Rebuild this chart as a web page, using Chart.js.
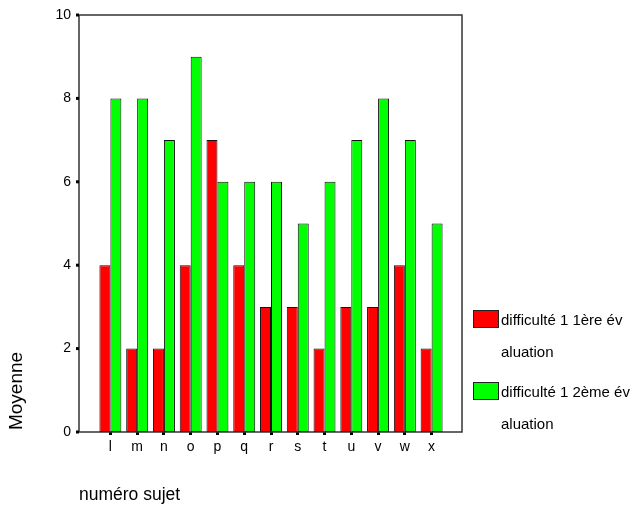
<!DOCTYPE html>
<html>
<head>
<meta charset="utf-8">
<script src="https://cdn.jsdelivr.net/npm/chart.js@4/dist/chart.umd.min.js"></script>
<style>
  body { margin: 0; background: #fff; }
  canvas { display: block; }
</style>
</head>
<body>
<canvas id="meanChart" width="633" height="506"></canvas>
<script>
// Data
const subjects = ['l', 'm', 'n', 'o', 'p', 'q', 'r', 's', 't', 'u', 'v', 'w', 'x'];
const eval1 = [4, 2, 2, 4, 7, 4, 3, 3, 2, 3, 3, 4, 2];
const eval2 = [8, 8, 7, 9, 6, 6, 6, 5, 6, 7, 8, 7, 5];
const seriesNames = ['difficulté 1 1ère évaluation', 'difficulté 1 2ème évaluation'];
const yTicks = [0, 2, 4, 6, 8, 10];

const FONT = "'Liberation Sans', Arial, sans-serif";
const colors = ['#ff0000', '#00ff00'];
const PLOT_TOP = 15;

// frame, little tick squares, legend and axis titles (SPSS look)
const spssDecor = {
    id: 'spssDecor',
    afterLayout(chart) {
        // pin the top of the value axis where the original has it
        const y = chart.scales.y;
        y.top = PLOT_TOP;
        y.height = y.bottom - y.top;
        chart.chartArea.top = PLOT_TOP;
        chart.chartArea.height = chart.chartArea.bottom - PLOT_TOP;
        y.configure();
    },
    afterDraw(chart) {
        const c = chart.ctx;
        const y = chart.scales.y;
        const top = y.getPixelForValue(10);
        const bottom = y.getPixelForValue(0);
        const left = 79, right = 462;

        c.save();
        c.strokeStyle = '#333';
        c.lineWidth = 1.5;
        c.strokeRect(left, top, right - left, bottom - top);

        c.fillStyle = '#000';
        yTicks.forEach(v => {
            c.fillRect(left - 3, y.getPixelForValue(v) - 1.5, 3, 3);
        });

        // legend, wrapped the way the original does it
        c.font = '15px ' + FONT;
        c.textBaseline = 'middle';
        c.textAlign = 'left';
        const boxTops = [310, 382];
        seriesNames.forEach((name, i) => {
            const by = boxTops[i];
            c.fillStyle = colors[i];
            c.fillRect(473, by, 26, 18);
            c.strokeStyle = '#222';
            c.lineWidth = 1;
            c.strokeRect(473.5, by + 0.5, 25, 17);
            c.fillStyle = '#000';
            const cut = name.indexOf('év') + 2;
            c.fillText(name.slice(0, cut), 501, by + 11);
            c.fillText(name.slice(cut), 501, by + 43);
        });

        // axis titles
        c.font = '19px ' + FONT;
        c.textAlign = 'center';
        c.translate(17, 391);
        c.rotate(-Math.PI / 2);
        c.fillText('Moyenne', 0, 0);
        c.restore();

        c.save();
        c.font = '17.5px ' + FONT;
        c.fillStyle = '#000';
        c.textBaseline = 'middle';
        c.textAlign = 'left';
        c.fillText('numéro sujet', 79, 495);
        c.restore();
    }
};

const ctx = document.getElementById('meanChart').getContext('2d');

const meanChart = new Chart(ctx, {
    type: 'bar',
    data: {
        labels: subjects,
        datasets: [
            {
                label: seriesNames[0],
                data: eval1,
                backgroundColor: colors[0],
                borderColor: '#111',
                borderWidth: 1,
                borderSkipped: false
            },
            {
                label: seriesNames[1],
                data: eval2,
                backgroundColor: colors[1],
                borderColor: '#111',
                borderWidth: 1,
                borderSkipped: false
            }
        ]
    },
    options: {
        responsive: false,
        animation: false,
        categoryPercentage: 0.82,
        barPercentage: 1,
        layout: { padding: { top: 15, right: 188, bottom: 0, left: 0 } },
        plugins: {
            legend: { display: false },
            tooltip: { enabled: false }
        },
        scales: {
            x: {
                offset: true,
                afterFit(scale) { scale.height = 74; },
                grid: {
                    offset: false,
                    drawOnChartArea: false,
                    tickLength: 3,
                    lineWidth: 3,
                    color: '#000'
                },
                border: { display: false },
                ticks: {
                    color: '#000',
                    padding: 4,
                    font: { family: FONT, size: 14 }
                }
            },
            y: {
                min: 0,
                max: 10,
                afterFit(scale) { scale.width = 97; },
                afterBuildTicks(scale) {
                    scale.ticks = yTicks.map(v => ({ value: v }));
                },
                grid: { display: false, drawTicks: false },
                border: { display: false },
                ticks: {
                    color: '#000',
                    padding: 26,
                    font: { family: FONT, size: 14 }
                }
            }
        }
    },
    plugins: [spssDecor]
});
</script>
</body>
</html>
